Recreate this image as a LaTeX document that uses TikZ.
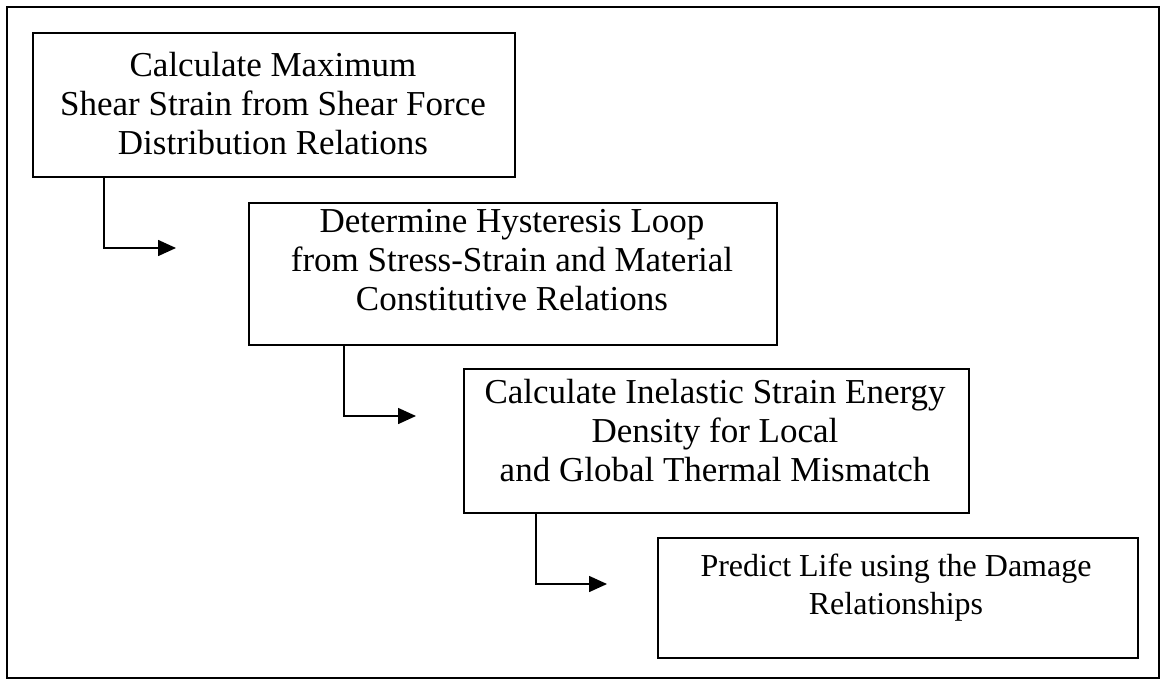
\documentclass[tikz,border=0pt]{standalone}
\usepackage{fontspec}
\setmainfont{Liberation Serif}
\usetikzlibrary{arrows.meta}
\begin{document}
\begin{tikzpicture}[x=1pt,y=-1pt,
  frame/.style={draw=black,line width=2.5pt},
  box/.style={draw=black,line width=1.7pt,inner sep=0pt,anchor=north west},
  txt/.style={inner sep=0pt,anchor=north,align=center,font=\fontsize{35}{39}\selectfont},
  smalltxt/.style={inner sep=0pt,anchor=north,align=center,font=\fontsize{32}{38}\selectfont},
  conn/.style={draw=black,line width=1.6pt,-{Triangle[length=18pt,width=16pt]}}]
\useasboundingbox (0,0) rectangle (1162,681);
\draw[frame] (7,7) rectangle (1159,678);
% boxes
\node[box,minimum width=482pt,minimum height=144pt] (b1) at (32,32) {};
\node[box,minimum width=528pt,minimum height=142pt] (b2) at (248,202) {};
\node[box,minimum width=505pt,minimum height=144pt] (b3) at (463,368) {};
\node[box,minimum width=480pt,minimum height=120pt] (b4) at (657,537) {};
% texts
\node[txt] (t1) at (273,52) {Calculate Maximum\\Shear Strain from Shear Force\\Distribution Relations};
\node[txt] (t2) at (512,209) {Determine Hysteresis Loop\\from Stress-Strain and Material\\Constitutive Relations};
\node[txt] (t3) at (715,379) {Calculate Inelastic Strain Energy\\Density for Local\\and Global Thermal Mismatch};
\node[smalltxt] (t4) at (896,554) {Predict Life using the Damage\\Relationships};
% connectors
\coordinate (a1) at (176,248);
\coordinate (a2) at (416,416);
\coordinate (a3) at (607,584);
\draw[conn] ([xshift=72pt]b1.south west) |- (a1);
\draw[conn] ([xshift=96pt]b2.south west) |- (a2);
\draw[conn] ([xshift=73pt]b3.south west) |- (a3);
\end{tikzpicture}
\end{document}
